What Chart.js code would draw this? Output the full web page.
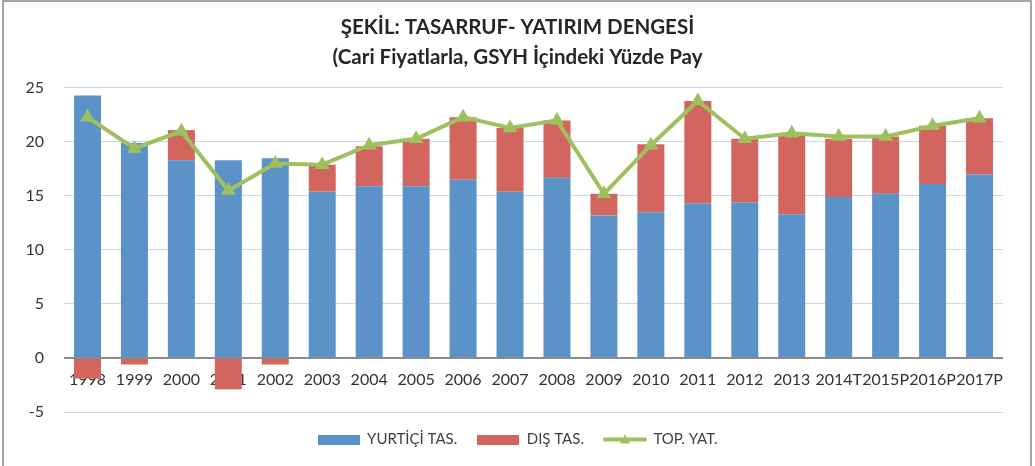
<!DOCTYPE html>
<html>
<head>
<meta charset="utf-8">
<script src="https://cdn.jsdelivr.net/npm/chart.js@4.4.1/dist/chart.umd.min.js"></script>
<style>
  html, body { margin: 0; padding: 0; background: #fff; }
  #wrap { width: 1035px; height: 466px; position: relative; }
</style>
</head>
<body>
<div id="wrap"><canvas id="chart" width="1035" height="466"></canvas></div>
<script>
// DATA
const years = ['1998','1999','2000','2001','2002','2003','2004','2005','2006','2007','2008','2009','2010','2011','2012','2013','2014T','2015P','2016P','2017P'];
const yurtici = [24.3, 19.9, 18.3, 18.3, 18.5, 15.4, 15.9, 15.9, 16.5, 15.4, 16.7, 13.2, 13.5, 14.3, 14.4, 13.3, 14.9, 15.2, 16.1, 17.0];
const dis = [-1.9, -0.6, 2.8, -2.9, -0.6, 2.5, 3.7, 4.4, 5.8, 5.9, 5.3, 2.0, 6.3, 9.5, 5.9, 7.3, 5.4, 5.3, 5.4, 5.2];
const topYat = [22.3, 19.4, 21.0, 15.5, 18.0, 17.9, 19.7, 20.3, 22.3, 21.3, 22.0, 15.2, 19.7, 23.8, 20.3, 20.8, 20.5, 20.5, 21.5, 22.2];
const yTicks = { min: -5, max: 25, step: 5 };
const seriesNames = ['YURTİÇİ TAS.', 'DIŞ TAS.', 'TOP. YAT.'];
const titleLines = ['ŞEKİL: TASARRUF- YATIRIM DENGESİ', '(Cari Fiyatlarla, GSYH İçindeki Yüzde Pay'];

const BLUE = '#5b93c9';
const RED = '#d2665f';
const GREEN = '#9fc05f';
const FONT = 'Lato, "Open Sans", sans-serif';

// legend icons
function rectIcon(color) {
  const c = document.createElement('canvas');
  c.width = 42; c.height = 10;
  const g = c.getContext('2d');
  g.fillStyle = color;
  g.fillRect(0, 0, 42, 10);
  return c;
}
function lineIcon(color) {
  const c = document.createElement('canvas');
  c.width = 44; c.height = 12;
  const g = c.getContext('2d');
  g.strokeStyle = color;
  g.lineWidth = 4;
  g.lineCap = 'round';
  g.beginPath(); g.moveTo(2, 6); g.lineTo(42, 6); g.stroke();
  g.fillStyle = color;
  g.beginPath(); g.moveTo(22, 1); g.lineTo(27, 10); g.lineTo(17, 10); g.closePath(); g.fill();
  return c;
}
const legendIcons = [rectIcon(BLUE), rectIcon(RED), lineIcon(GREEN)];

// outer frame + nudge title/legend to the right like the original
const framePlugin = {
  id: 'frame',
  afterLayout(chart) {
    const dx = 14;
    [chart.titleBlock, chart.legend].forEach(b => {
      if (!b) return;
      b.left += dx; b.right += dx;
    });
  },
  afterDraw(chart) {
    const ctx = chart.ctx;
    ctx.save();
    ctx.strokeStyle = '#a6a6a6';
    ctx.lineWidth = 2;
    ctx.strokeRect(3, 1, chart.width - 7, chart.height + 5);
    ctx.restore();
  }
};

const chart = new Chart(document.getElementById('chart').getContext('2d'), {
  type: 'bar',
  data: {
    labels: years,
    datasets: [
      { label: seriesNames[0], data: yurtici, backgroundColor: BLUE, order: 1, barPercentage: 0.575, categoryPercentage: 1 },
      { label: seriesNames[1], data: dis, backgroundColor: RED, order: 1, barPercentage: 0.575, categoryPercentage: 1 },
      {
        type: 'line', label: seriesNames[2], data: topYat, order: 0,
        borderColor: GREEN, borderWidth: 4, backgroundColor: GREEN,
        pointStyle: 'triangle', pointRadius: 8.5, pointBorderWidth: 0,
        pointBackgroundColor: GREEN, tension: 0
      }
    ]
  },
  options: {
    responsive: false,
    animation: false,
    layout: { padding: { left: 4, right: 32, top: 0, bottom: 9 } },
    plugins: {
      title: {
        display: true,
        text: titleLines,
        color: '#262626',
        font: { family: FONT, size: 20.5, weight: 'bold', lineHeight: 1.463 },
        padding: { top: 12, bottom: 16 }
      },
      legend: {
        position: 'bottom',
        labels: {
          usePointStyle: true,
          pointStyleWidth: 42,
          boxHeight: 10,
          padding: 20,
          color: '#404040',
          font: { family: FONT, size: 15 },
          sort: (a, b) => a.datasetIndex - b.datasetIndex,
          generateLabels(c) {
            const items = Chart.defaults.plugins.legend.labels.generateLabels(c);
            items.forEach(it => { it.pointStyle = legendIcons[it.datasetIndex]; });
            return items;
          }
        }
      },
      tooltip: { enabled: false }
    },
    scales: {
      x: {
        stacked: true,
        position: { y: 0 },
        grid: { display: false, drawTicks: false },
        border: { display: false },
        ticks: {
          autoSkip: false, maxRotation: 0, minRotation: 0,
          padding: 12, color: '#333',
          font: { family: FONT, size: 16 }
        }
      },
      y: {
        stacked: true,
        min: yTicks.min, max: yTicks.max,
        afterFit(scale) { scale.width = 60; },
        border: { display: false },
        grid: {
          drawTicks: false,
          color: c => c.tick && c.tick.value === 0 ? '#8c8c8c' : '#c9d8ec',
          lineWidth: c => c.tick && c.tick.value === 0 ? 2 : 1
        },
        ticks: {
          stepSize: yTicks.step, padding: 20, color: '#333',
          font: { family: FONT, size: 16 }
        }
      }
    }
  },
  plugins: [framePlugin]
});
</script>
</body>
</html>
